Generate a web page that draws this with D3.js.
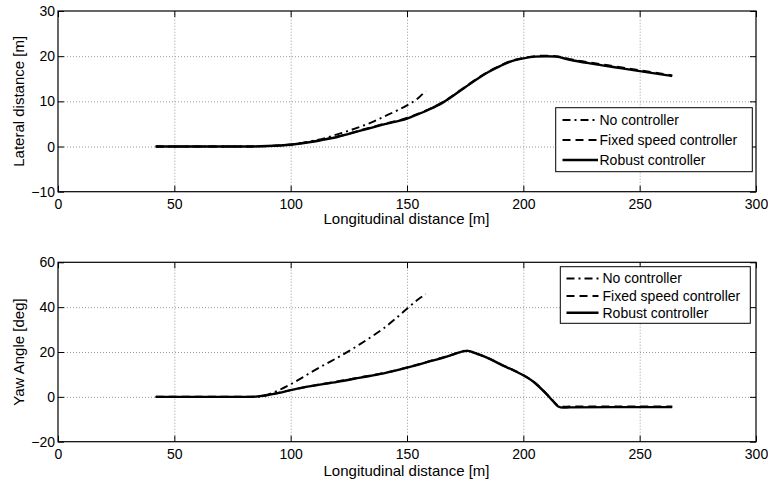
<!DOCTYPE html>
<html lang="en">
<head>
    <meta charset="UTF-8">
    <title>lateral and yaw</title>
    <script src="https://d3js.org/d3.v7.min.js"></script>
    <style>
        body {
            margin: 0;
            background: white;
        }
        svg {
            display: block;
            font-family: "Liberation Sans", Arial, Helvetica, sans-serif;
        }
        .grid line {
            stroke: #9a9a9a;
            stroke-width: 1;
            stroke-dasharray: 1,2;
        }
        .grid .domain {
            display: none;
        }
        .ticks .domain {
            display: none;
        }
        .ticks line {
            stroke: black;
        }
        .ticks text {
            font-size: 14px;
            fill: black;
        }
        .frame {
            fill: none;
            stroke: black;
            stroke-width: 1.2;
        }
        .label {
            font-size: 15px;
            fill: black;
        }
        .series {
            fill: none;
            stroke: black;
        }
        .legend-box {
            fill: white;
            stroke: black;
            stroke-width: 1;
        }
        .legend text {
            font-size: 14px;
            fill: black;
        }
    </style>
</head>
<body>
    <div id="chart"></div>
    <script>

        // data

        const xTicks = [0, 50, 100, 150, 200, 250, 300]
        const latTicks = [-10, 0, 10, 20, 30]
        const yawTicks = [-20, 0, 20, 40, 60]

        const seriesNames = ['No controller', 'Fixed speed controller', 'Robust controller']

        // lateral distance [m] vs longitudinal distance [m]
        const latNoCtrl = [[42, 0], [60, 0], [80, 0], [90, 0.1], [100, 0.45], [105, 0.8], [110, 1.3], [115, 1.9],
            [120, 2.7], [125, 3.5], [130, 4.4], [135, 5.4], [140, 6.6], [145, 7.8], [150, 9.1], [155, 10.8], [158, 12.3]]
        const latFixed = [[42, 0], [60, 0], [80, 0], [90, 0.1], [100, 0.45], [110, 1.15], [115, 1.65], [120, 2.2],
            [125, 2.85], [130, 3.6], [140, 5.0], [150, 6.3], [155, 7.3], [160, 8.4], [165, 9.7], [170, 11.4], [175, 13.2],
            [180, 15.0], [185, 16.6], [190, 17.9], [195, 19.0], [200, 19.6], [205, 20.0], [210, 20.1], [214, 20.0],
            [220, 19.35], [230, 18.5], [240, 17.7], [250, 16.9], [264, 15.75]]
        const latRobust = [[42, 0], [60, 0], [80, 0], [90, 0.1], [100, 0.4], [110, 1.1], [115, 1.6], [120, 2.1],
            [125, 2.8], [130, 3.5], [140, 4.9], [150, 6.2], [155, 7.2], [160, 8.3], [165, 9.6], [170, 11.3], [175, 13.1],
            [180, 14.9], [185, 16.5], [190, 17.8], [195, 18.9], [200, 19.5], [205, 19.9], [210, 20.0], [214, 19.9],
            [220, 19.2], [230, 18.3], [240, 17.5], [250, 16.7], [264, 15.6]]

        // yaw angle [deg] vs longitudinal distance [m]
        const yawNoCtrl = [[42, 0], [60, 0], [80, 0], [85, 0], [88, 0.3], [90, 0.9], [95, 3.0], [100, 5.6], [105, 8.6],
            [110, 11.7], [115, 14.6], [120, 17.4], [125, 20.4], [130, 23.6], [135, 27.0], [140, 30.6], [145, 34.8],
            [150, 39.3], [155, 43.6], [158, 45.8]]
        const yawFixed = [[42, 0], [60, 0], [80, 0], [85, 0.1], [90, 0.8], [95, 1.8], [100, 3.0], [105, 4.1], [110, 5.1],
            [120, 6.8], [130, 8.7], [140, 10.6], [150, 13.1], [155, 14.5], [160, 16.0], [165, 17.4], [170, 19.0], [174, 20.4],
            [176, 20.6], [178, 20.1], [180, 19.3], [185, 17.3], [190, 14.7], [195, 12.3], [200, 9.7], [205, 6.3], [210, 1.3],
            [213, -2.0], [215, -4.0], [217, -4.4], [220, -4.35], [240, -4.3], [264, -4.3]]
        const yawRobust = [[42, 0], [60, 0], [80, 0], [85, 0.1], [90, 0.8], [95, 1.8], [100, 3.0], [105, 4.1], [110, 5.0],
            [120, 6.7], [130, 8.6], [140, 10.5], [150, 13.0], [155, 14.4], [160, 15.9], [165, 17.3], [170, 18.9], [174, 20.3],
            [176, 20.5], [178, 20.0], [180, 19.2], [185, 17.2], [190, 14.6], [195, 12.2], [200, 9.6], [205, 6.2], [210, 1.2],
            [213, -2.2], [215, -4.3], [217, -4.8], [220, -4.7], [240, -4.6], [264, -4.6]]

        // layout

        const WIDTH = 768
        const HEIGHT = 483
        const LEFT = 58
        const RIGHT = 756

        const styles = [
            { dash: '8,4,2,4', width: 1.9 },   // dash-dot
            { dash: '8,5', width: 2 },         // dashed
            { dash: null, width: 2.4 }         // solid
        ]

        const svg = d3.select('#chart')
            .append('svg')
            .attr('width', WIDTH)
            .attr('height', HEIGHT)
            .attr('viewBox', [0, 0, WIDTH, HEIGHT])

        svg.append('rect').attr('width', WIDTH).attr('height', HEIGHT).attr('fill', 'white')

        const fmt = d3.format('')

        function drawPanel(cfg) {
            const x = d3.scaleLinear().domain([0, 300]).range([LEFT, RIGHT])
            const y = d3.scaleLinear().domain(cfg.yDomain).range([cfg.bottom, cfg.top])
            const h = cfg.bottom - cfg.top
            const w = RIGHT - LEFT
            const g = svg.append('g')

            // grid
            g.append('g').attr('class', 'grid')
                .attr('transform', `translate(0,${cfg.bottom})`)
                .call(d3.axisBottom(x).tickValues(xTicks.slice(1, -1)).tickSize(-h).tickFormat(''))
            g.append('g').attr('class', 'grid')
                .attr('transform', `translate(${LEFT},0)`)
                .call(d3.axisLeft(y).tickValues(cfg.yTicks.slice(1, -1)).tickSize(-w).tickFormat(''))

            // series
            const line = d3.line()
                .x(d => x(d[0]))
                .y(d => y(d[1]))
                .curve(d3.curveMonotoneX)

            cfg.series.forEach((data, i) => {
                g.append('path').attr('class', 'series')
                    .attr('d', line(data))
                    .attr('stroke-width', styles[i].width)
                    .attr('stroke-dasharray', styles[i].dash)
            })

            // ticks, inward on all four sides
            g.append('g').attr('class', 'ticks')
                .attr('transform', `translate(0,${cfg.bottom})`)
                .call(d3.axisBottom(x).tickValues(xTicks).tickSize(-6).tickSizeOuter(0).tickPadding(7).tickFormat(fmt))
            g.append('g').attr('class', 'ticks')
                .attr('transform', `translate(0,${cfg.top})`)
                .call(d3.axisTop(x).tickValues(xTicks).tickSize(-6).tickSizeOuter(0).tickFormat(''))
            g.append('g').attr('class', 'ticks')
                .attr('transform', `translate(${LEFT},0)`)
                .call(d3.axisLeft(y).tickValues(cfg.yTicks).tickSize(-6).tickSizeOuter(0).tickPadding(3).tickFormat(fmt))
            g.append('g').attr('class', 'ticks')
                .attr('transform', `translate(${RIGHT},0)`)
                .call(d3.axisRight(y).tickValues(cfg.yTicks).tickSize(-6).tickSizeOuter(0).tickFormat(''))

            g.append('rect').attr('class', 'frame')
                .attr('x', LEFT).attr('y', cfg.top)
                .attr('width', w).attr('height', h)

            // labels
            g.append('text').attr('class', 'label')
                .attr('x', (LEFT + RIGHT) / 2 - 0.5)
                .attr('y', cfg.xLabelY)
                .attr('text-anchor', 'middle')
                .text('Longitudinal distance [m]')
            g.append('text').attr('class', 'label')
                .attr('transform', `translate(24,${(cfg.top + cfg.bottom) / 2}) rotate(-90)`)
                .attr('text-anchor', 'middle')
                .text(cfg.yLabel)

            // legend
            const lg = g.append('g').attr('class', 'legend')
            const L = cfg.legend
            lg.append('rect').attr('class', 'legend-box')
                .attr('x', L.x0).attr('y', L.y0)
                .attr('width', L.x1 - L.x0).attr('height', L.y1 - L.y0)
            seriesNames.forEach((name, i) => {
                const ry = L.rows[i]
                lg.append('line')
                    .attr('x1', L.sample[0]).attr('x2', L.sample[1])
                    .attr('y1', ry).attr('y2', ry)
                    .attr('stroke', 'black')
                    .attr('stroke-width', styles[i].width)
                    .attr('stroke-dasharray', styles[i].dash)
                lg.append('text')
                    .attr('x', L.textX).attr('y', ry)
                    .attr('dy', '0.35em')
                    .text(name)
            })
        }

        drawPanel({
            top: 11, bottom: 191.7,
            yDomain: [-10, 30], yTicks: latTicks,
            yLabel: 'Lateral distance [m]',
            xLabelY: 224,
            series: [latNoCtrl, latFixed, latRobust],
            legend: { x0: 555.7, y0: 107.7, x1: 752.3, y1: 171.7, rows: [120, 140, 160], sample: [562.5, 598], textX: 599.5 }
        })

        drawPanel({
            top: 262.3, bottom: 441.7,
            yDomain: [-20, 60], yTicks: yawTicks,
            yLabel: 'Yaw Angle [deg]',
            xLabelY: 476,
            series: [yawNoCtrl, yawFixed, yawRobust],
            legend: { x0: 560.3, y0: 266.7, x1: 750.3, y1: 323.3, rows: [278.5, 296, 312.7], sample: [566.5, 598.5], textX: 602.5 }
        })
    </script>
</body>
</html>
